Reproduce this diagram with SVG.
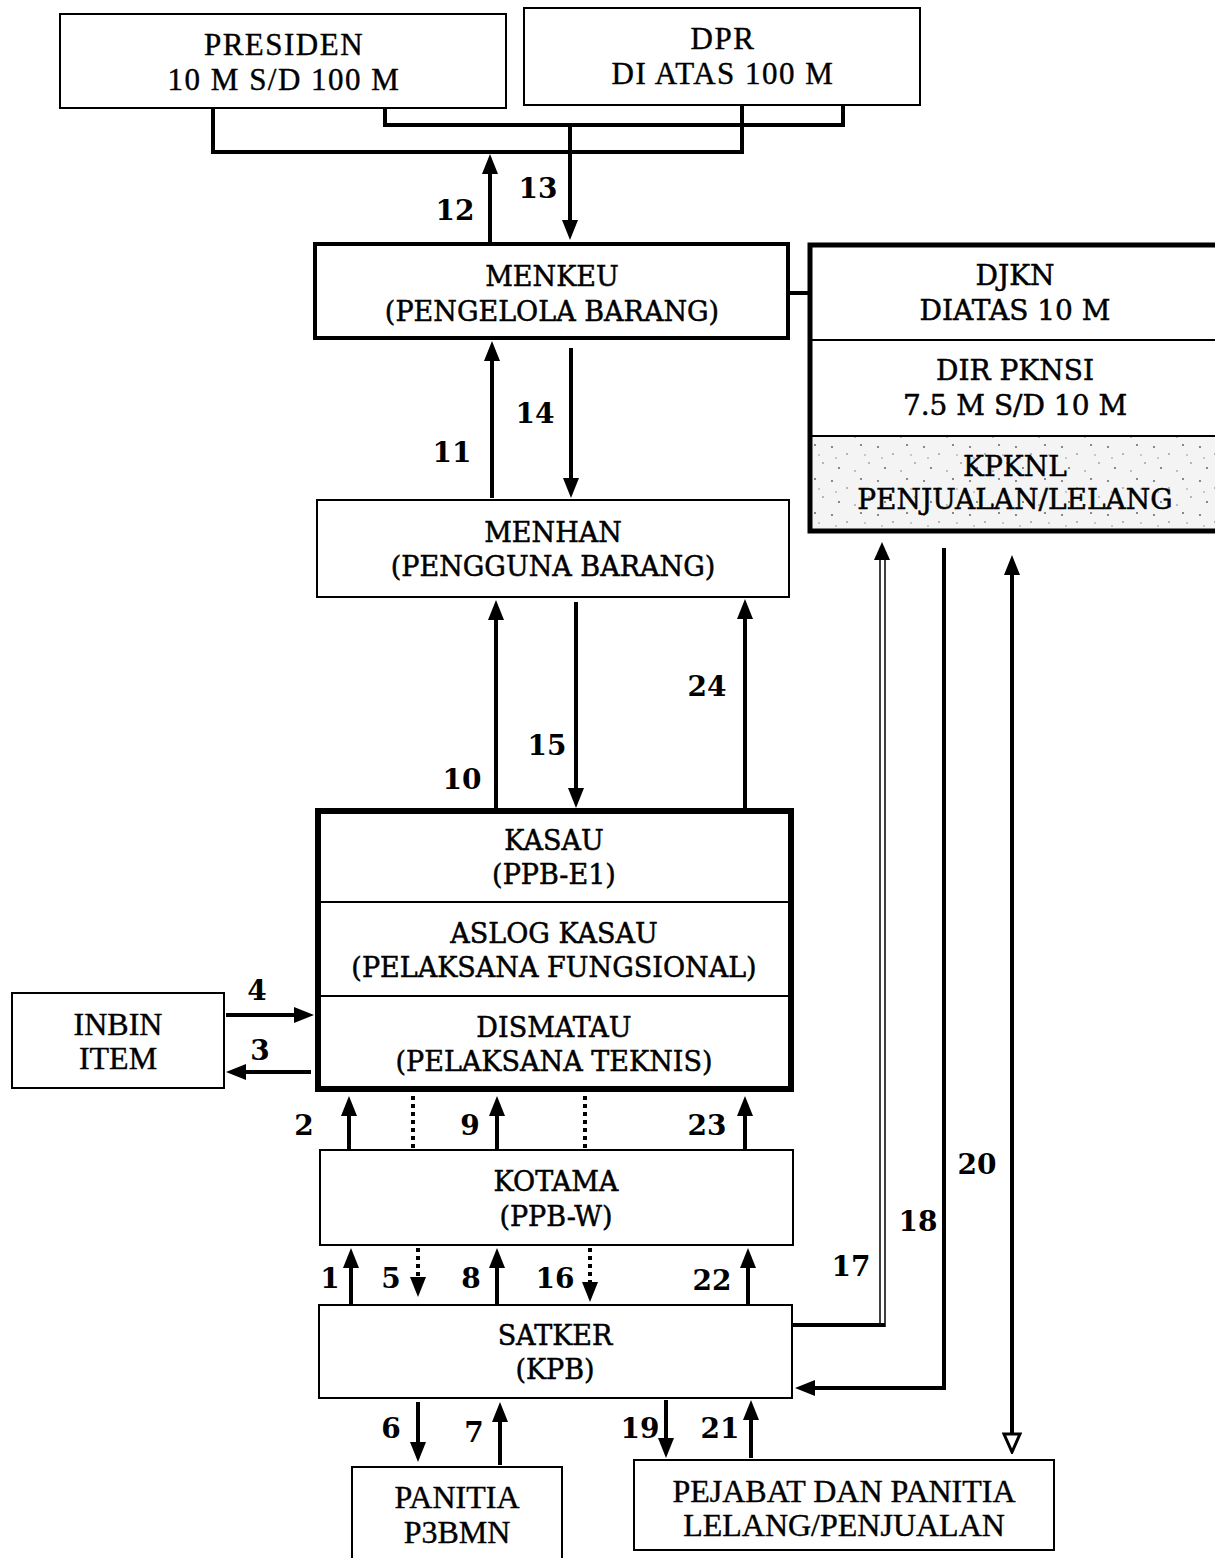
<svg xmlns="http://www.w3.org/2000/svg" width="1215" height="1558" viewBox="0 0 1215 1558">
<style>
.box{fill:#fff;stroke:#000;stroke-width:2}
.thick{stroke-width:4}
.vthick{stroke-width:6}
.t1{font-family:"DejaVu Serif",serif;font-size:27px;text-anchor:middle;fill:#000;stroke:#000;stroke-width:0.5}
.t1b{font-size:28px}
.t2{font-family:"Liberation Serif",serif;font-size:32px;text-anchor:middle;fill:#000;stroke:#000;stroke-width:0.4}
.t2b{font-size:31px;letter-spacing:1.5px}
.num{font-family:"DejaVu Serif",serif;font-size:28px;font-weight:bold;text-anchor:middle;fill:#000}
.ln{fill:none;stroke:#000;stroke-width:4}
.dot{fill:none;stroke:#000;stroke-width:4;stroke-dasharray:4 4}
.div{stroke:#000;stroke-width:2}
</style>
<defs>
<marker id="arr" markerUnits="userSpaceOnUse" markerWidth="20" markerHeight="16" refX="10" refY="8" orient="auto-start-reverse" viewBox="0 0 20 16">
<path d="M0,0 L20,8 L0,16 z" fill="#000"/>
</marker>
<marker id="arrOpen" markerUnits="userSpaceOnUse" markerWidth="22" markerHeight="20" refX="2" refY="10" orient="auto" viewBox="0 0 22 20">
<path d="M2,2 L20,10 L2,18 z" fill="#fff" stroke="#000" stroke-width="3"/>
</marker>
<pattern id="stip" patternUnits="userSpaceOnUse" width="46" height="34">
<rect width="46" height="34" fill="#f4f4f4"/>
<circle cx="4" cy="5" r="0.9" fill="#555"/>
<circle cx="19" cy="12" r="0.8" fill="#666"/>
<circle cx="33" cy="3" r="0.9" fill="#555"/>
<circle cx="41" cy="21" r="0.8" fill="#666"/>
<circle cx="11" cy="26" r="0.9" fill="#555"/>
<circle cx="27" cy="29" r="0.8" fill="#777"/>
<circle cx="8" cy="16" r="0.7" fill="#777"/>
<circle cx="37" cy="13" r="0.7" fill="#777"/>
</pattern>
</defs>

<g id="presiden">
<rect class="box" x="60" y="14" width="446" height="94"/>
<text class="t2 t2b" x="284" y="55">PRESIDEN</text>
<text class="t2 t2b" x="284" y="90">10 M S/D 100 M</text>
</g>
<g id="dpr">
<rect class="box" x="524" y="8" width="396" height="97"/>
<text class="t2 t2b" x="723" y="49">DPR</text>
<text class="t2 t2b" x="723" y="84">DI ATAS 100 M</text>
</g>
<g id="menkeu">
<rect class="box thick" x="315" y="244" width="473" height="94"/>
<text class="t1" x="552" y="286">MENKEU</text>
<text class="t1" x="552" y="321">(PENGELOLA BARANG)</text>
</g>
<g id="djkn">
<rect x="810" y="437" width="410" height="94" fill="url(#stip)"/>
<rect x="810" y="245" width="420" height="286" fill="none" stroke="#000" stroke-width="5"/>
<line class="div" x1="810" y1="340" x2="1215" y2="340"/>
<line class="div" x1="810" y1="436" x2="1215" y2="436"/>
<text class="t1 t1b" x="1015" y="285">DJKN</text>
<text class="t1 t1b" x="1015" y="320">DIATAS 10 M</text>
<text class="t1 t1b" x="1015" y="380">DIR PKNSI</text>
<text class="t1 t1b" x="1015" y="415">7.5 M S/D 10 M</text>
<text class="t1 t1b" x="1015" y="476">KPKNL</text>
<text class="t1 t1b" x="1015" y="509">PENJUALAN/LELANG</text>
</g>
<g id="menhan">
<rect class="box" x="317" y="500" width="472" height="97"/>
<text class="t1" x="553" y="542">MENHAN</text>
<text class="t1" x="553" y="576">(PENGGUNA BARANG)</text>
</g>
<g id="kasau">
<rect class="box vthick" x="318" y="811" width="473" height="278"/>
<line class="div" x1="318" y1="902" x2="791" y2="902"/>
<line class="div" x1="318" y1="996" x2="791" y2="996"/>
<text class="t1" x="554" y="850">KASAU</text>
<text class="t1" x="554" y="884">(PPB-E1)</text>
<text class="t1" x="554" y="943">ASLOG KASAU</text>
<text class="t1" x="554" y="977">(PELAKSANA FUNGSIONAL)</text>
<text class="t1" x="554" y="1037">DISMATAU</text>
<text class="t1" x="554" y="1071">(PELAKSANA TEKNIS)</text>
</g>
<g id="inbin">
<rect class="box" x="12" y="993" width="212" height="95"/>
<text class="t2" x="118" y="1035">INBIN</text>
<text class="t2" x="118" y="1069">ITEM</text>
</g>
<g id="kotama">
<rect class="box" x="320" y="1150" width="473" height="95"/>
<text class="t1" x="556" y="1191">KOTAMA</text>
<text class="t1" x="556" y="1226">(PPB-W)</text>
</g>
<g id="satker">
<rect class="box" x="319" y="1305" width="473" height="93"/>
<text class="t1" x="555" y="1345">SATKER</text>
<text class="t1" x="555" y="1379">(KPB)</text>
</g>
<g id="panitia">
<rect class="box" x="352" y="1467" width="210" height="95"/>
<text class="t2" x="457" y="1508">PANITIA</text>
<text class="t2" x="457" y="1543">P3BMN</text>
</g>
<g id="pejabat">
<rect class="box" x="634" y="1460" width="420" height="90" stroke-width="2.5"/>
<text class="t2" x="844" y="1502">PEJABAT DAN PANITIA</text>
<text class="t2" x="844" y="1536">LELANG/PENJUALAN</text>
</g>

<g id="connectors">
<path class="ln" d="M213,108 V152 H742 V105"/>
<path class="ln" d="M385,108 V125 H843 V105"/>
<line class="ln" x1="789" y1="293" x2="810" y2="293"/>
<line class="ln" x1="490" y1="243" x2="490" y2="164" marker-end="url(#arr)"/>
<line class="ln" x1="570" y1="125" x2="570" y2="230" marker-end="url(#arr)"/>
<line class="ln" x1="492" y1="498" x2="492" y2="351" marker-end="url(#arr)"/>
<line class="ln" x1="571" y1="348" x2="571" y2="488" marker-end="url(#arr)"/>
<line class="ln" x1="496" y1="809" x2="496" y2="610" marker-end="url(#arr)"/>
<line class="ln" x1="576" y1="602" x2="576" y2="798" marker-end="url(#arr)"/>
<line class="ln" x1="745" y1="809" x2="745" y2="609" marker-end="url(#arr)"/>
<line class="ln" x1="226" y1="1015" x2="304" y2="1015" marker-end="url(#arr)"/>
<line class="ln" x1="311" y1="1072" x2="236" y2="1072" marker-end="url(#arr)"/>
<line class="ln" x1="349" y1="1150" x2="349" y2="1106" marker-end="url(#arr)"/>
<line class="dot" x1="413" y1="1096" x2="413" y2="1150"/>
<line class="ln" x1="497" y1="1150" x2="497" y2="1106" marker-end="url(#arr)"/>
<line class="dot" x1="585" y1="1096" x2="585" y2="1150"/>
<line class="ln" x1="745" y1="1150" x2="745" y2="1106" marker-end="url(#arr)"/>
<line class="ln" x1="351" y1="1305" x2="351" y2="1258" marker-end="url(#arr)"/>
<line class="dot" x1="418" y1="1248" x2="418" y2="1287" marker-end="url(#arr)"/>
<line class="ln" x1="497" y1="1305" x2="497" y2="1258" marker-end="url(#arr)"/>
<line class="dot" x1="590" y1="1248" x2="590" y2="1292" marker-end="url(#arr)"/>
<line class="ln" x1="748" y1="1305" x2="748" y2="1258" marker-end="url(#arr)"/>
<path class="ln" d="M792,1325 H885"/>
<line x1="880" y1="1327" x2="880" y2="552" stroke="#000" stroke-width="1.5"/>
<line x1="885" y1="1327" x2="885" y2="552" stroke="#000" stroke-width="1.5"/>
<polygon points="882,542 874,560 890,560" fill="#000"/>
<path class="ln" d="M944,548 V1388 H805" marker-end="url(#arr)"/>
<line class="ln" x1="1012" y1="565" x2="1012" y2="1434" marker-start="url(#arr)" marker-end="url(#arrOpen)"/>
<line class="ln" x1="418" y1="1402" x2="418" y2="1452" marker-end="url(#arr)"/>
<line class="ln" x1="500" y1="1465" x2="500" y2="1412" marker-end="url(#arr)"/>
<line class="ln" x1="666" y1="1400" x2="666" y2="1448" marker-end="url(#arr)"/>
<line class="ln" x1="751" y1="1458" x2="751" y2="1410" marker-end="url(#arr)"/>
</g>

<g id="labels">
<text class="num" x="455" y="220">12</text>
<text class="num" x="538" y="198">13</text>
<text class="num" x="452" y="462">11</text>
<text class="num" x="535" y="423">14</text>
<text class="num" x="462" y="789">10</text>
<text class="num" x="547" y="755">15</text>
<text class="num" x="707" y="696">24</text>
<text class="num" x="257" y="1000">4</text>
<text class="num" x="260" y="1060">3</text>
<text class="num" x="304" y="1135">2</text>
<text class="num" x="470" y="1135">9</text>
<text class="num" x="707" y="1135">23</text>
<text class="num" x="330" y="1288">1</text>
<text class="num" x="391" y="1288">5</text>
<text class="num" x="471" y="1288">8</text>
<text class="num" x="555" y="1288">16</text>
<text class="num" x="712" y="1290">22</text>
<text class="num" x="851" y="1276">17</text>
<text class="num" x="918" y="1231">18</text>
<text class="num" x="977" y="1174">20</text>
<text class="num" x="391" y="1438">6</text>
<text class="num" x="474" y="1442">7</text>
<text class="num" x="640" y="1438">19</text>
<text class="num" x="720" y="1438">21</text>
</g>
</svg>
